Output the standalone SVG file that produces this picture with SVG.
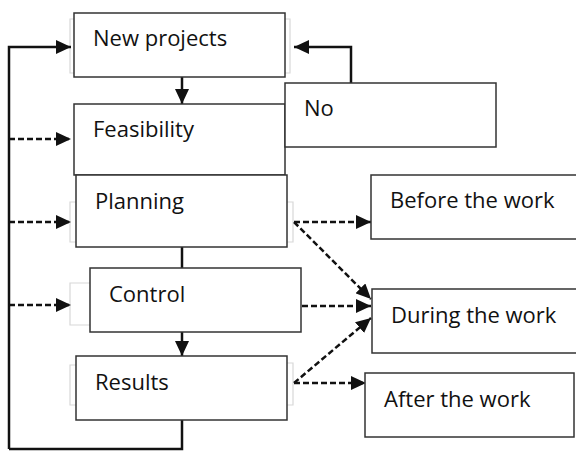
<svg xmlns="http://www.w3.org/2000/svg" width="576" height="451" viewBox="0 0 576 451">
<style>
.box{fill:#fff;stroke:#333;stroke-width:1.5}
.lbl{font-family:"Open Sans","Liberation Sans",sans-serif;font-size:22px;fill:#111}
.solid{fill:none;stroke:#111;stroke-width:2.5}
.dash{fill:none;stroke:#111;stroke-width:2.5;stroke-dasharray:6 3}
.brk{fill:none;stroke:#d8d8d8;stroke-width:1.2}
</style>
<defs>
<marker id="ah" markerUnits="userSpaceOnUse" markerWidth="16" markerHeight="14" refX="15" refY="7" orient="auto">
<path d="M0,0 L15,7 L0,14 z" fill="#111"/>
</marker>
</defs>
<g id="brackets">
<path class="brk" d="M74,19 H70 V73 H74 M285,19 H290 V73 H285"/>
<path class="brk" d="M76,202 H70 V242 H76 M287,202 H293 V242 H287"/>
<path class="brk" d="M90,283 H70 V325 H90"/>
<path class="brk" d="M76,365 H70 V405 H76 M287,363 H293 V405 H287"/>
</g>
<g id="connectors">
<path class="solid" d="M9,449 V47 H71" marker-end="url(#ah)"/>
<path class="solid" d="M9,449 H182 V420"/>
<path class="solid" d="M182,77 V104" marker-end="url(#ah)"/>
<path class="solid" d="M182,247 V268"/>
<path class="solid" d="M182,332 V356" marker-end="url(#ah)"/>
<path class="solid" d="M351,83 V47 H294" marker-end="url(#ah)"/>
<path class="dash" d="M9,139 H71" marker-end="url(#ah)"/>
<path class="dash" d="M9,222 H71" marker-end="url(#ah)"/>
<path class="dash" d="M9,305 H71" marker-end="url(#ah)"/>
<path class="dash" d="M294,222 H371" marker-end="url(#ah)"/>
<path class="dash" d="M294,222 L371,299" marker-end="url(#ah)"/>
<path class="dash" d="M302,306 H371" marker-end="url(#ah)"/>
<path class="dash" d="M294,383 L371,318" marker-end="url(#ah)"/>
<path class="dash" d="M294,383 H366" marker-end="url(#ah)"/>
</g>
<g id="new-projects">
<rect class="box" x="74" y="13" width="211" height="64"/>
<text class="lbl" x="93" y="46">New projects</text>
</g>
<g id="feasibility">
<rect class="box" x="74" y="104" width="211" height="71"/>
<text class="lbl" x="93" y="137">Feasibility</text>
</g>
<g id="no">
<rect class="box" x="285" y="83" width="211" height="64"/>
<text class="lbl" x="304" y="116">No</text>
</g>
<g id="planning">
<rect class="box" x="76" y="175" width="211" height="72"/>
<text class="lbl" x="95" y="209">Planning</text>
</g>
<g id="control">
<rect class="box" x="90" y="268" width="211" height="64"/>
<text class="lbl" x="109" y="302">Control</text>
</g>
<g id="results">
<rect class="box" x="76" y="356" width="211" height="64"/>
<text class="lbl" x="95" y="390">Results</text>
</g>
<g id="before">
<rect class="box" x="371" y="175" width="210" height="64"/>
<text class="lbl" x="390" y="208">Before the work</text>
</g>
<g id="during">
<rect class="box" x="372" y="289" width="210" height="64"/>
<text class="lbl" x="391" y="323">During the work</text>
</g>
<g id="after">
<rect class="box" x="365" y="373" width="209" height="64"/>
<text class="lbl" x="384" y="407">After the work</text>
</g>
</svg>
